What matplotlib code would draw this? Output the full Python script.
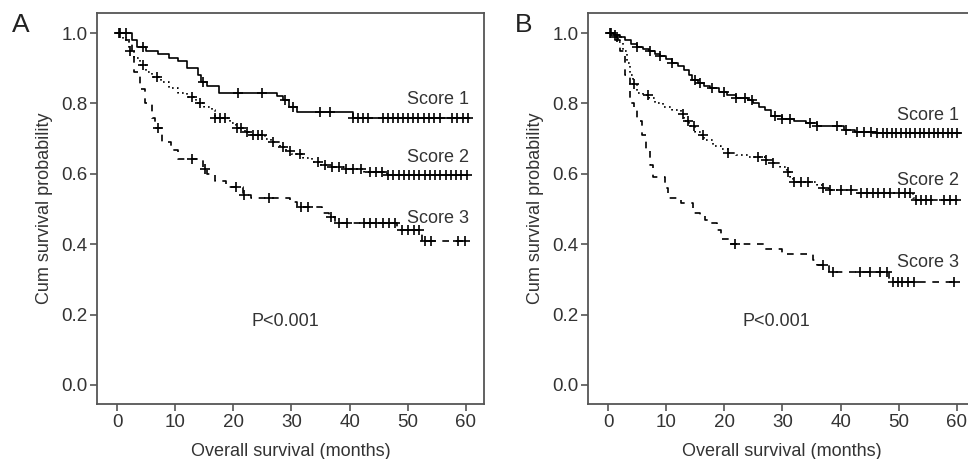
import numpy as np
import matplotlib
matplotlib.use('Agg')
import matplotlib.pyplot as plt

plt.rcParams['font.family'] = ['Liberation Sans', 'DejaVu Sans']

# Panel A - krzywe przezycia (czas w miesiacach, prawdopodobienstwo)
a1_t = [0, 2.5, 3.5, 5, 7, 9, 10.5, 12, 14, 14.5, 15.5, 17.5, 27.5, 28.5, 29.5, 31, 40.5]
a1_s = [1.0, 0.98, 0.96, 0.95, 0.94, 0.93, 0.92, 0.90, 0.88, 0.86, 0.85, 0.83, 0.82, 0.81, 0.79, 0.775, 0.76]
a1_c = [0.5, 1.5, 4.5, 14.8, 20.8, 24.9, 28.8, 30.2, 34.9, 36.6, 40.6, 41.5, 42.3, 43.1, 45.7, 46.6,
        47.5, 48.3, 49.2, 50.1, 50.9, 51.8, 52.7, 53.6, 54.5, 55.6, 57.6, 58.5, 59.5, 60.3]

a2_t = [0, 1, 2, 3, 4, 5, 6, 7.5, 9, 10.5, 12, 13.5, 15, 16.3, 16.8, 19.5, 20.5, 22, 23, 25.5, 26.5,
        28, 29, 30, 32, 33.5, 35, 37, 39, 42.5, 46.5]
a2_s = [1.0, 0.98, 0.95, 0.93, 0.91, 0.89, 0.875, 0.86, 0.845, 0.83, 0.818, 0.80, 0.79, 0.78, 0.76,
        0.745, 0.73, 0.72, 0.71, 0.70, 0.69, 0.675, 0.665, 0.655, 0.645, 0.635, 0.625, 0.62, 0.615,
        0.605, 0.597]
a2_c = [0.3, 2.2, 4.5, 6.9, 12.9, 14.3, 16.8, 17.7, 18.6, 20.6, 21.3, 22.3, 23.4, 24.2, 25, 26.8,
        28.5, 29.7, 31.5, 34.5, 35.8, 37, 38.2, 39.4, 40.6, 41.9, 43.5, 44.6, 45.6, 46.6, 47.5, 48.4,
        49.3, 50.2, 51.1, 52, 52.9, 53.8, 54.7, 55.6, 56.5, 57.4, 58.3, 59.2, 60.1]

a3_t = [0, 1.5, 2.5, 3, 4, 4.8, 6, 6.5, 7.7, 9.3, 10.5, 14.8, 15.5, 16.8, 18.8, 21.6, 23, 29.8, 31,
        35.3, 36.5, 37.5, 48.2, 48.5, 52.5]
a3_s = [1.0, 0.98, 0.95, 0.89, 0.84, 0.80, 0.76, 0.73, 0.69, 0.667, 0.642, 0.615, 0.60, 0.58, 0.5625,
        0.54, 0.53, 0.52, 0.506, 0.49, 0.478, 0.46, 0.45, 0.44, 0.41]
a3_c = [7.0, 12.9, 15.1, 20.5, 21.8, 26.2, 31.6, 32.8, 36.8, 38.2, 39.6, 42.4, 43.5, 44.6, 45.7, 46.8,
        47.8, 49.0, 50.0, 51.0, 52.0, 53.0, 54.0, 58.6, 59.8]

# Panel B
b1_t = [0, 1, 2, 3, 4, 5, 6, 7, 8, 9, 10, 11, 12, 13, 14, 14.5, 15.5, 16.5, 17.5, 19, 20.5, 22, 24,
        25, 26, 27, 28, 30, 32, 34, 36, 40.5, 42.5, 46]
b1_s = [1.0, 0.995, 0.99, 0.98, 0.97, 0.96, 0.955, 0.95, 0.94, 0.935, 0.925, 0.915, 0.905, 0.895,
        0.88, 0.866, 0.857, 0.85, 0.844, 0.832, 0.824, 0.815, 0.81, 0.80, 0.79, 0.78, 0.765, 0.757,
        0.75, 0.744, 0.735, 0.724, 0.719, 0.716]
b1_c = [0.3, 1.2, 5, 7.2, 9, 11, 14.9, 15.8, 17.9, 20, 22, 23.5, 24.8, 28.7, 30, 31.3, 34.7, 36,
        39.4, 41, 42.8, 44, 45.2, 46.2, 47.2, 48, 48.8, 49.6, 50.4, 51.2, 52, 52.8, 53.6, 54.4, 55.2,
        56, 56.8, 57.6, 58.4, 59.2, 60]

b2_t = [0, 1, 1.7, 2.5, 3.2, 3.8, 4.3, 5, 6, 7, 8, 9.5, 11, 12.5, 13, 14, 15, 16, 16.5, 18, 19.5,
        20.6, 22, 24, 27, 28.4, 29.5, 30.8, 31.3, 31.8, 36, 37, 38, 43, 52.5, 53]
b2_s = [1.0, 0.99, 0.975, 0.95, 0.915, 0.88, 0.855, 0.83, 0.825, 0.815, 0.80, 0.79, 0.78, 0.77, 0.75,
        0.735, 0.72, 0.71, 0.696, 0.68, 0.67, 0.66, 0.653, 0.648, 0.64, 0.63, 0.62, 0.605, 0.59,
        0.577, 0.568, 0.56, 0.554, 0.545, 0.531, 0.526]
b2_c = [0.5, 1.5, 4.5, 6.9, 12.9, 13.8, 14.8, 16.3, 20.6, 25.8, 27.2, 28.4, 31, 32, 33.2, 34.4, 37,
        38.2, 40, 41.8, 43.5, 44.5, 45.5, 46.5, 47.5, 48.5, 50, 51, 52, 53, 53.8, 54.6, 55.5, 57.8,
        58.8, 59.8]

b3_t = [0, 1, 2, 2.9, 3.8, 4.5, 5, 5.8, 6.6, 7.2, 7.7, 9.8, 10.3, 12.5, 14.6, 15.8, 16.7, 17.5,
        18.7, 19.5, 21, 27, 30, 35.2, 36, 38, 48.3]
b3_s = [1.0, 0.98, 0.95, 0.88, 0.80, 0.78, 0.75, 0.71, 0.67, 0.625, 0.59, 0.56, 0.531, 0.517, 0.49,
        0.483, 0.47, 0.46, 0.44, 0.415, 0.40, 0.386, 0.372, 0.355, 0.34, 0.32, 0.293]
b3_c = [21.8, 37, 38.7, 43.3, 45, 46.8, 48, 49, 49.8, 50.6, 51.5, 52.6, 59.5]

score_labels = ['Score 1', 'Score 2', 'Score 3']
a_label_y = [0.81, 0.645, 0.474]
b_label_y = [0.767, 0.582, 0.347]

t_end = 60.5
txt_col = '#333333'
spine_col = '#555555'


def draw_curve(ax, t, s, cens, ls):
    t = np.array(t + [t_end])
    s = np.array(s + [s[-1]])
    ax.step(t, s, where='post', color='black', lw=1.2, linestyle=ls)
    c = np.array(cens)
    idx = np.searchsorted(t, c, side='right') - 1
    ax.plot(c, s[idx], linestyle='none', marker='+', ms=6.5, mew=1.2, color='black')


def setup_axes(ax):
    ax.set_xlim(-3.44, 63.1)
    ax.set_ylim(-0.054, 1.057)
    ax.set_xticks([0, 10, 20, 30, 40, 50, 60])
    ax.set_yticks([0.0, 0.2, 0.4, 0.6, 0.8, 1.0])
    ax.set_yticklabels(['0.0', '0.2', '0.4', '0.6', '0.8', '1.0'])
    ax.tick_params(direction='out', length=5, width=1.2, colors=spine_col, labelcolor=txt_col,
                   labelsize=13.5, pad=2)
    for sp in ax.spines.values():
        sp.set_color(spine_col)
        sp.set_linewidth(1.3)
    ax.set_xlabel('Overall survival (months)', fontsize=13, color=txt_col, labelpad=9)
    ax.set_ylabel('Cum survival probability', fontsize=13, color=txt_col, labelpad=6)


fig = plt.figure(figsize=(9.68, 4.59), dpi=100)
W, H = 968.0, 459.0
axA = fig.add_axes([97 / W, (H - 404) / H, (484 - 97) / W, (404 - 13) / H])
axB = fig.add_axes([588 / W, (H - 404) / H, (975 - 588) / W, (404 - 13) / H])

draw_curve(axA, a1_t, a1_s, a1_c, '-')
draw_curve(axA, a2_t, a2_s, a2_c, (0, (1, 2)))
draw_curve(axA, a3_t, a3_s, a3_c, (0, (4, 4)))
draw_curve(axB, b1_t, b1_s, b1_c, '-')
draw_curve(axB, b2_t, b2_s, b2_c, (0, (1, 2)))
draw_curve(axB, b3_t, b3_s, b3_c, (0, (4, 4)))

setup_axes(axA)
setup_axes(axB)

for ax, ys, xr in [(axA, a_label_y, 60.6), (axB, b_label_y, 60.3)]:
    for lab, y in zip(score_labels, ys):
        ax.text(xr, y, lab, ha='right', va='center', fontsize=13, color=txt_col)
    ax.text(29, 0.179, 'P<0.001', ha='center', va='center', fontsize=13, color=txt_col)

fig.text(12 / W, 1 - 25 / H, 'A', fontsize=19, color='#222222', ha='left', va='center')
fig.text(515 / W, 1 - 25 / H, 'B', fontsize=19, color='#222222', ha='left', va='center')

fig.savefig('out.png', dpi=100)
